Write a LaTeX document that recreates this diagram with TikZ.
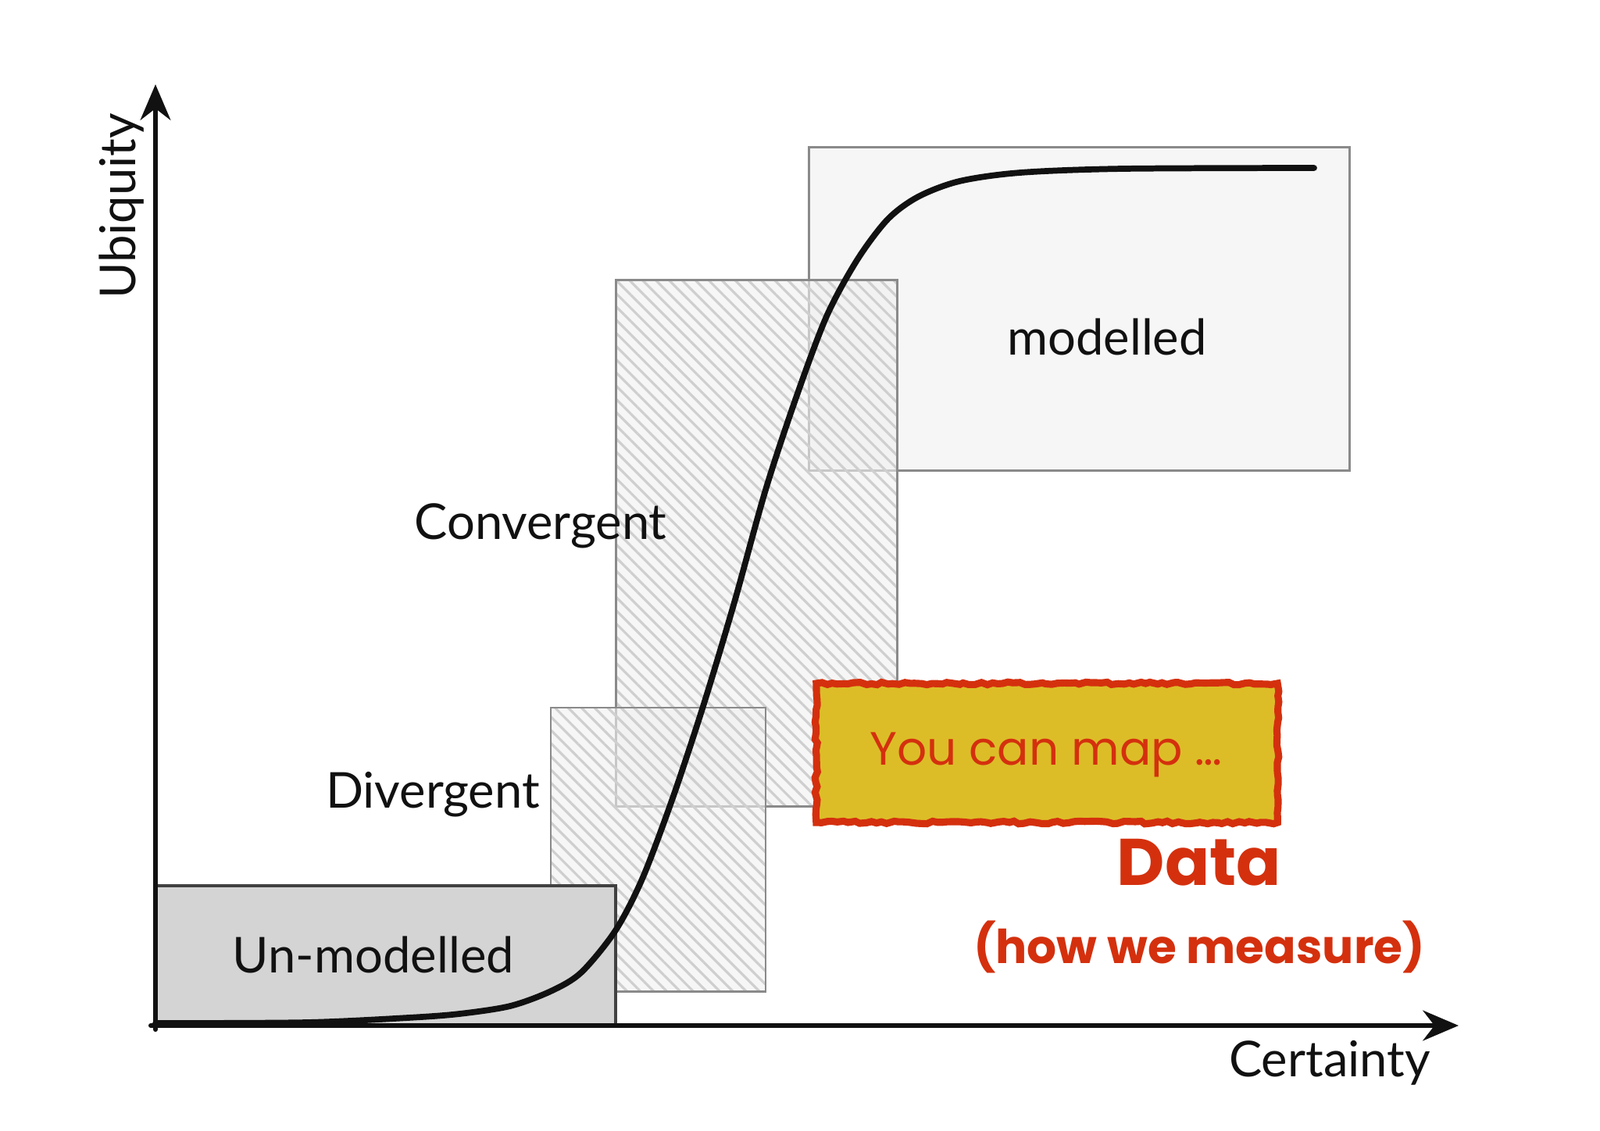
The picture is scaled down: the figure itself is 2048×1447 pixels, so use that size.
\documentclass[tikz,border=0pt]{standalone}
\usepackage{fontspec}
\setmainfont{Lato}
\newfontfamily\handfont{Poppins}
\usetikzlibrary{arrows.meta}
\usetikzlibrary{patterns.meta}
\usetikzlibrary{decorations.pathmorphing}
\definecolor{mpink}{HTML}{111111}
\definecolor{mpline}{HTML}{8A8A8A}
\definecolor{mpgray}{HTML}{D4D4D4}
\definecolor{mppale}{HTML}{F0F0F0}
\definecolor{mphatchc}{HTML}{CFCFCF}
\definecolor{mpyellow}{HTML}{DCBD28}
\definecolor{mpred}{HTML}{D4300E}
\tikzset{
  mpzone/.style={
    draw=mpline, fill=mppale, fill opacity=0.6, draw opacity=1,
    line width=0.8pt, inner sep=0pt},
  mphatch/.style={
    mpzone, postaction={pattern={Lines[angle=-45, distance=3.4pt,
      line width=0.9pt]}, pattern color=mphatchc},
    postaction={draw=mpline, line width=0.8pt}},
  mpaxis/.style={-{Stealth[length=13pt, width=11pt]}, draw=mpink,
    line width=1.7pt},
  mplabel/.style={font=\fontsize{18}{22}\selectfont, text=mpink},
  mpnote/.style={font=\handfont\bfseries, text=mpred},
  every picture/.style={line cap=round},
}
\begin{document}
\begin{tikzpicture}[x=0.01cm, y=-0.01cm]

% Frame of the page.
\fill[white] (0,0) rectangle (2048,1447);
\useasboundingbox (0,0) rectangle (2048,1447);

% The four zones.
\node[mpzone, minimum width=6.91cm, minimum height=4.13cm]
  (modelled) at (1381.5,395.5) {};
\node[mphatch, minimum width=3.59cm, minimum height=6.73cm]
  (convergent) at (968.5,695.5) {};
\node[mphatch, minimum width=2.75cm, minimum height=3.63cm]
  (divergent) at (842.5,1087.5) {};
\node[draw=mpink!80, fill=mpgray, line width=1pt, inner sep=0pt,
      minimum width=5.89cm, minimum height=1.79cm]
  (unmodelled) at (493.5,1223.5) {};

% Zone labels.
\node[mplabel] (modelledlbl) at (1417,431) {modelled};
\node[mplabel] (convergentlbl) at (692,673) {Convergent};
\node[mplabel] (divergentlbl) at (554,1017) {Divergent};
\node[mplabel] (unmodelledlbl) at (478,1222) {Un-modelled};

% The evolution curve.
\draw[line width=2.2pt, draw=mpink]
  plot[smooth, tension=0.5] coordinates {
    (199,1310) (392,1309) (522,1303) (588,1298) (653,1288)
    (705,1269) (744,1245) (788,1191) (823,1123) (862,1019)
    (901,901) (940,771) (980,627) (1019,509) (1058,405)
    (1097,333) (1136,281) (1175,252) (1228,232) (1306,221)
    (1437,216) (1682,215)};

% Axes.
\coordinate (origin) at (193,1313);
\coordinate (xend) at (1867,1313);
\coordinate (ystart) at (199,1318);
\coordinate (yend) at (199,108);
\draw[mpaxis] (origin) -- (xend);
\draw[mpaxis] (ystart) -- (yend);
\node[mplabel] (xlbl) at (1702,1361) {Certainty};
\node[mplabel, rotate=90] (ylbl) at (156,264) {Ubiquity};

% The callout.
\node[fill=mpyellow, draw=mpred, line width=2.6pt, inner sep=0pt,
      decorate, decoration={random steps, segment length=2pt,
      amplitude=0.5pt},
      minimum width=5.9cm, minimum height=1.78cm]
  (callout) at (1340,964) {};
\node[mpnote, font=\handfont\fontsize{17}{20}\selectfont]
  (calloutlbl) at (1339,966) {You can map \dots};
\node[mpnote, font=\handfont\bfseries\fontsize{24}{28}\selectfont]
  (data) at (1535,1104) {Data};
\node[mpnote, font=\handfont\bfseries\fontsize{17}{20}\selectfont]
  (measure) at (1535,1212) {(how we measure)};

\end{tikzpicture}
\end{document}
